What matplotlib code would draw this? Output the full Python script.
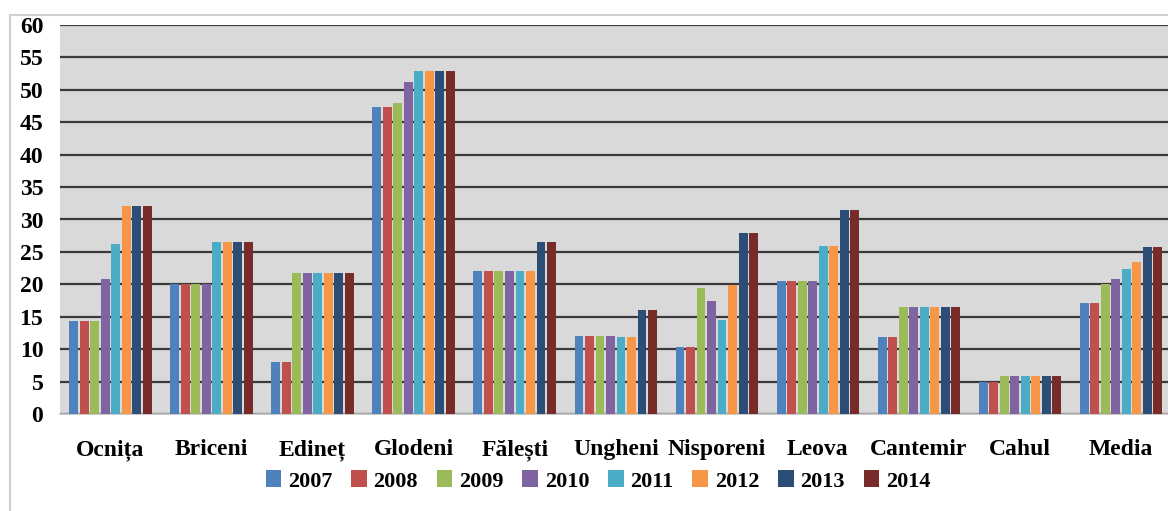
import matplotlib
matplotlib.use("Agg")
import matplotlib.pyplot as plt
from matplotlib.lines import Line2D
import numpy as np

districts = ["Ocnița", "Briceni", "Edineț", "Glodeni", "Fălești", "Ungheni",
             "Nisporeni", "Leova", "Cantemir", "Cahul", "Media"]
years = ["2007", "2008", "2009", "2010", "2011", "2012", "2013", "2014"]

v2007 = [14.4, 20.0, 8.0, 47.4, 22.1, 12.0, 10.3, 20.5, 11.9, 4.9, 17.1]
v2008 = [14.4, 20.0, 8.0, 47.4, 22.1, 12.0, 10.3, 20.5, 11.9, 4.9, 17.1]
v2009 = [14.4, 20.0, 21.8, 48.0, 22.1, 12.0, 19.4, 20.5, 16.5, 5.9, 20.1]
v2010 = [20.8, 20.0, 21.8, 51.2, 22.1, 12.0, 17.4, 20.5, 16.5, 5.9, 20.8]
v2011 = [26.2, 26.5, 21.8, 52.9, 22.1, 11.9, 14.5, 25.9, 16.5, 5.9, 22.4]
v2012 = [32.1, 26.5, 21.8, 52.9, 22.1, 11.9, 19.9, 25.9, 16.5, 5.9, 23.5]
v2013 = [32.1, 26.5, 21.8, 52.9, 26.5, 16.0, 27.9, 31.5, 16.5, 5.9, 25.8]
v2014 = [32.1, 26.5, 21.8, 52.9, 26.5, 16.0, 27.9, 31.5, 16.5, 5.9, 25.8]
series = [v2007, v2008, v2009, v2010, v2011, v2012, v2013, v2014]

colors = ["#4F81BD", "#C0504D", "#9BBB59", "#8064A2",
          "#4BACC6", "#F79646", "#2C4D75", "#772C2A"]

serif = ["Liberation Serif", "DejaVu Serif"]

fig = plt.figure(figsize=(11.68, 5.11), dpi=100)
W, H = 1168, 511
ax = fig.add_axes([60 / W, (H - 414) / H, (1171.5 - 60) / W, (414 - 25) / H])
ax.set_facecolor("#D9D9D9")

x = np.arange(len(districts))
slot = 0.104
bw = 0.088
for i, (vals, c, yr) in enumerate(zip(series, colors, years)):
    ax.bar(x + (i - 3.5) * slot, vals, width=bw, color=c, label=yr, zorder=3)

ax.set_xlim(-0.5, len(districts) - 0.5)
ax.set_ylim(0, 60)
ax.set_yticks(np.arange(0, 61, 5))
ax.yaxis.grid(True, color="#3A3A3A", linewidth=1.6, zorder=1)
ax.set_axisbelow(True)

for s in ["left", "right", "top"]:
    ax.spines[s].set_visible(False)
ax.spines["bottom"].set_color("#BFBFBF")
ax.spines["bottom"].set_linewidth(1.2)

ax.set_xticks(x)
ax.set_xticklabels(districts, fontfamily=serif, fontweight="bold", fontsize=17)
ax.tick_params(axis="x", length=0, pad=18)
ax.tick_params(axis="y", length=0, pad=12)
for lab in ax.get_yticklabels():
    lab.set_fontfamily(serif)
    lab.set_fontweight("bold")
    lab.set_fontsize(17)

# outer chart frame
fig.add_artist(Line2D([10 / W, 10 / W], [0, 1 - 15 / H], color="#D0D0D0", lw=1.5))
fig.add_artist(Line2D([10 / W, 1], [1 - 15 / H, 1 - 15 / H], color="#D0D0D0", lw=1.5))

leg = fig.legend(loc="center", bbox_to_anchor=(598 / W, 1 - 481 / H), ncol=8,
                 frameon=False, handlelength=0.7, handleheight=0.8,
                 handletextpad=0.3, columnspacing=0.85,
                 prop={"family": serif, "weight": "bold", "size": 16})

fig.savefig("out.png", dpi=100)
